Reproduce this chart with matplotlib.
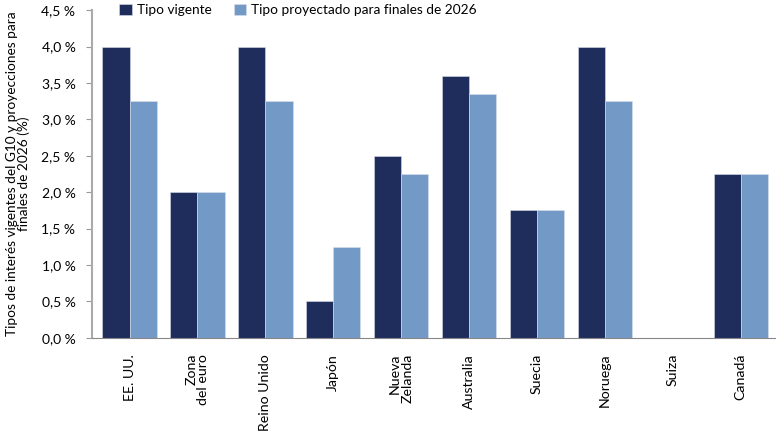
import matplotlib.pyplot as plt
import numpy as np
from matplotlib.ticker import FuncFormatter

plt.rcParams["font.family"] = ["Lato", "DejaVu Sans"]

countries = ["EE. UU.", "Zona\ndel euro", "Reino Unido", "Japón", "Nueva\nZelanda",
             "Australia", "Suecia", "Noruega", "Suiza", "Canadá"]
tipo_vigente = [4.0, 2.0, 4.0, 0.5, 2.5, 3.6, 1.75, 4.0, 0.0, 2.25]
tipo_proyectado = [3.25, 2.0, 3.25, 1.25, 2.25, 3.35, 1.75, 3.25, 0.0, 2.25]

dark = "#1f2d5c"
light = "#7399c6"


def main():
    fig = plt.figure(figsize=(7.81, 4.41), dpi=100)
    ax = fig.add_axes([0.118, 0.234, 0.874, 0.743])

    x = np.arange(len(countries))
    w = 0.4
    ax.bar(x - w / 2, tipo_vigente, w, color=dark, edgecolor="#d9deea", linewidth=0.4,
           label="Tipo vigente")
    ax.bar(x + w / 2, tipo_proyectado, w, color=light, edgecolor="#d9deea", linewidth=0.4,
           label="Tipo proyectado para finales de 2026")

    ax.set_xlim(-0.55, len(countries) - 0.5)
    ax.set_ylim(0, 4.5)
    ax.set_yticks(np.arange(0, 4.51, 0.5))
    ax.yaxis.set_major_formatter(FuncFormatter(lambda v, p: f"{v:.1f} %".replace(".", ",")))
    ax.tick_params(axis="y", length=4, color="#999999", labelsize=10, pad=8)

    ax.set_xticks(x)
    ax.set_xticklabels([])
    ax.tick_params(axis="x", length=0)
    for xi, lab in zip(x, countries):
        ax.text(xi, -0.22, lab, rotation=90, ha="center", va="top",
                multialignment="right", fontsize=10.2, linespacing=1.0)

    for side in ["top", "right"]:
        ax.spines[side].set_visible(False)
    ax.spines["left"].set_color("#aaaaaa")
    ax.spines["left"].set_linewidth(1.5)
    ax.spines["bottom"].set_color("#888888")

    ax.set_ylabel("Tipos de interés vigentes del G10 y proyecciones para\nfinales de 2026 (%)",
                  fontsize=9.8, labelpad=8, linespacing=1.0)

    ax.legend(loc="center left", bbox_to_anchor=(0.022, 1.0), ncol=2, frameon=False,
              fontsize=9.8, handlelength=0.9, handleheight=0.9, handletextpad=0.4,
              columnspacing=1.6)

    fig.savefig("out.png", dpi=100)


if __name__ == "__main__":
    main()
